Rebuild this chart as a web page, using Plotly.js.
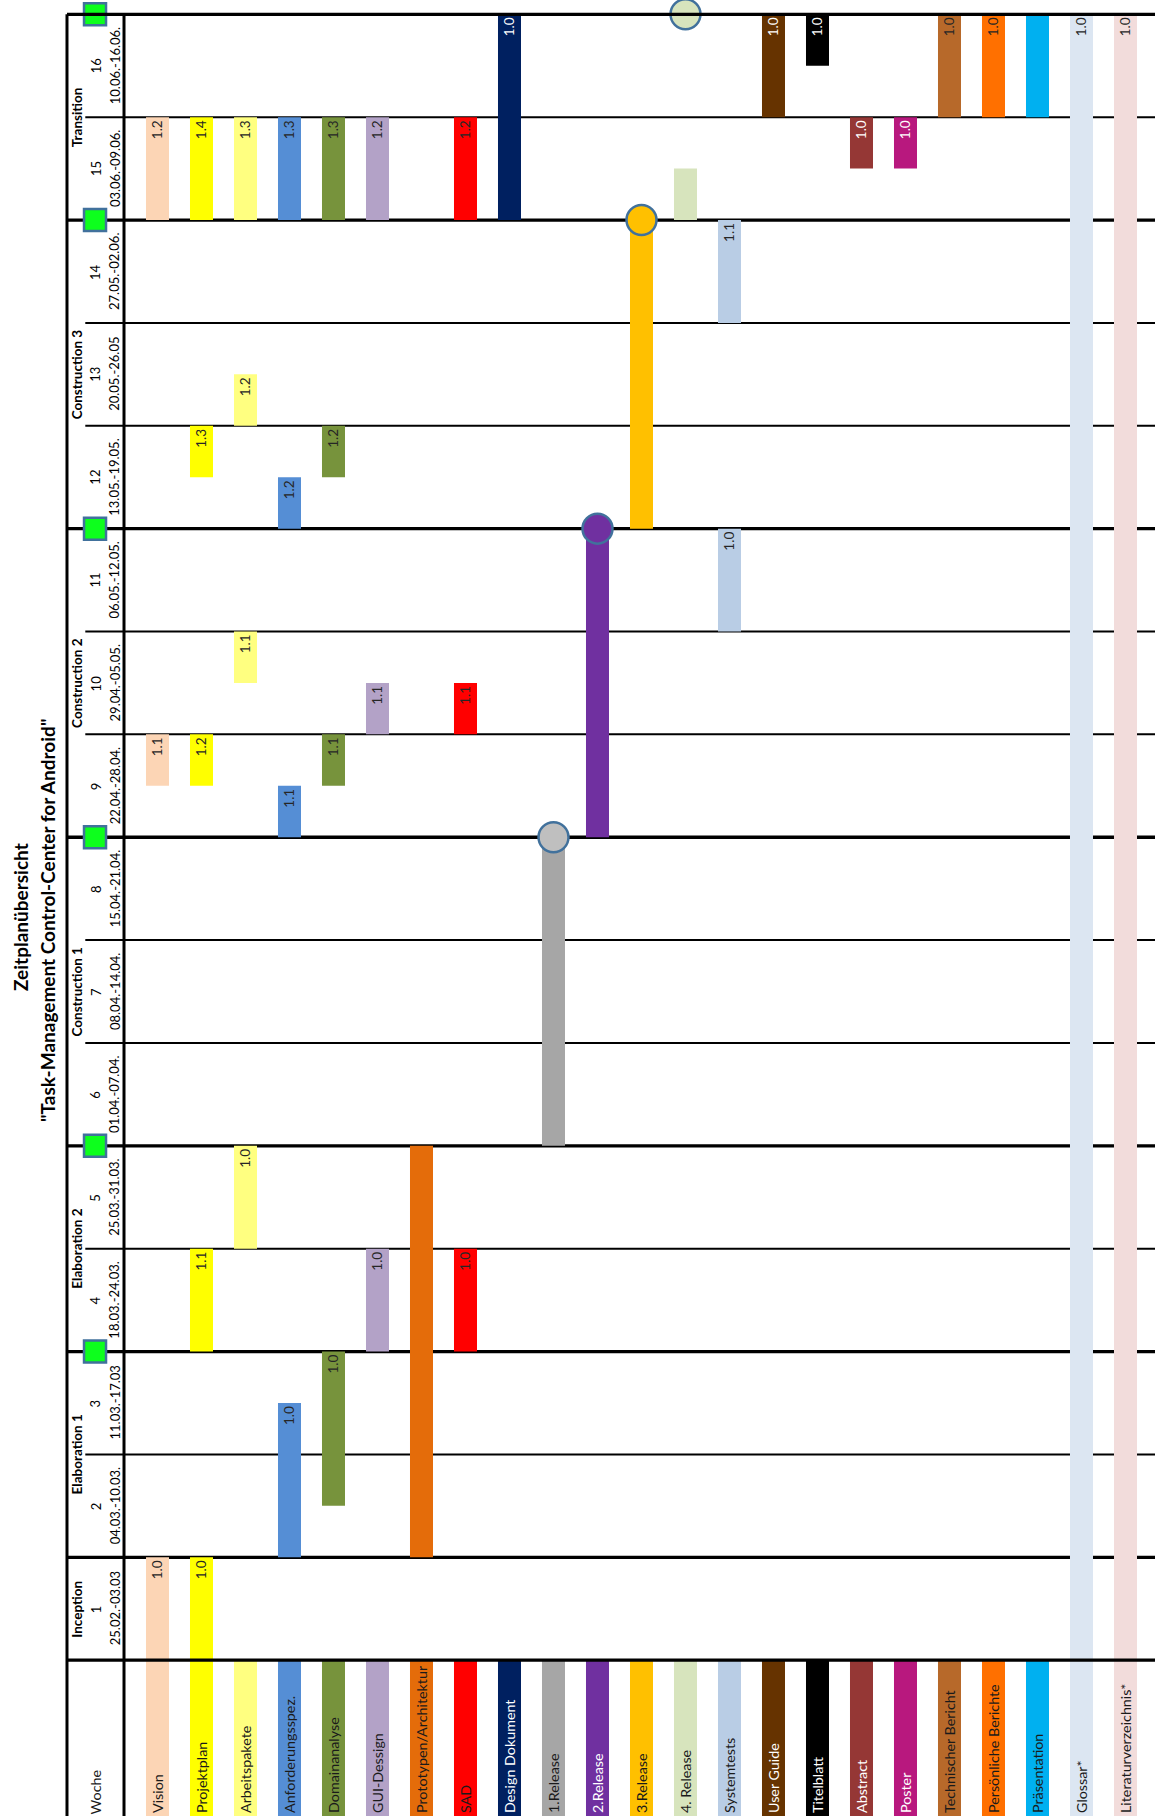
<!DOCTYPE html>
<html><head><meta charset="utf-8">
<script src="https://cdn.plot.ly/plotly-3.0.1.min.js"></script>
<style>html,body{margin:0;padding:0;background:#fff}#chart{width:1155px;height:1816px}</style>
</head><body><div id="chart"></div>
<script>
// ---------- data ----------
const items = ['Vision','Projektplan','Arbeitspakete','Anforderungsspez.','Domainanalyse','GUI-Dessign',
  'Prototypen/Architektur','SAD','Design Dokument','1.Release','2.Release','3.Release','4. Release',
  'Systemtests','User Guide','Titelblatt','Abstract','Poster','Technischer Bericht','Persönliche Berichte',
  'Präsentation','Glossar*','Literaturverzeichnis*'];
const itemColors = ['#FCD5B5','#FFFF00','#FFFF80','#558ED5','#77933C','#B3A2C7','#E46C0A','#FF0000','#002060',
  '#A6A6A6','#7030A0','#FFC000','#D7E4BD','#B9CDE5','#663300','#000000','#953735','#B8187E','#B7692A',
  '#FF7000','#00B0F0','#DCE6F2','#F2DCDB'];
const whiteTextItems = ['Design Dokument','2.Release','User Guide','Titelblatt','Abstract','Poster'];

// segments: deliverable, from week, to week (week k spans k-1..k), version label
const segItem = ['Vision','Vision','Vision',
  'Projektplan','Projektplan','Projektplan','Projektplan','Projektplan',
  'Arbeitspakete','Arbeitspakete','Arbeitspakete','Arbeitspakete',
  'Anforderungsspez.','Anforderungsspez.','Anforderungsspez.','Anforderungsspez.',
  'Domainanalyse','Domainanalyse','Domainanalyse','Domainanalyse',
  'GUI-Dessign','GUI-Dessign','GUI-Dessign',
  'Prototypen/Architektur',
  'SAD','SAD','SAD',
  'Design Dokument',
  '1.Release','2.Release','3.Release','4. Release',
  'Systemtests','Systemtests',
  'User Guide','Titelblatt','Abstract','Poster','Technischer Bericht','Persönliche Berichte','Präsentation',
  'Glossar*','Literaturverzeichnis*'];
const segFrom = [0,8.5,14, 0,3,8.5,11.5,14, 4,9.5,12,14, 1,8,11,14, 1.5,8.5,11.5,14, 3,9,14, 1, 3,9,14, 14,
  5,8,11,14, 10,13, 15,15.5,14.5,14.5,15,15,15, 0,0];
const segTo = [1,9,15, 1,4,9,12,15, 5,10,12.5,15, 2.5,8.5,11.5,15, 3,9,12,15, 4,9.5,15, 5, 4,9.5,15, 16,
  8,11,14,14.5, 11,14, 16,16,15,15,16,16,16, 16,16];
const segLabel = ['1.0','1.1','1.2', '1.0','1.1','1.2','1.3','1.4', '1.0','1.1','1.2','1.3', '1.0','1.1','1.2','1.3',
  '1.0','1.1','1.2','1.3', '1.0','1.1','1.2', '', '1.0','1.1','1.2', '1.0', '','','','', '1.0','1.1',
  '1.0','1.0','1.0','1.0','1.0','1.0','', '1.0','1.0'];

const weekNumbers = [1,2,3,4,5,6,7,8,9,10,11,12,13,14,15,16];
const weekDates = ['25.02.-03.03','04.03.-10.03.','11.03.-17.03','18.03.-24.03.','25.03.-31.03.','01.04.-07.04.',
  '08.04.-14.04.','15.04.-21.04.','22.04.-28.04.','29.04.-05.05.','06.05.-12.05.','13.05.-19.05.',
  '20.05.-26.05','27.05.-02.06.','03.06.-09.06.','10.06.-16.06.'];
const phaseNames = ['Inception','Elaboration 1','Elaboration 2','Construction 1','Construction 2','Construction 3','Transition'];
const phaseFirstWeek = [1,2,4,6,9,12,15];
const phaseLastWeek = [1,3,5,8,11,14,16];
const milestoneWeeks = [3,5,8,11,14,16];
const releaseItems = ['1.Release','2.Release','3.Release','4. Release'];
const releaseWeeks = [8,11,14,16];
const releaseColors = ['#BFBFBF','#7030A0','#FFC000','#D7E4BD'];
const titleLines = ['Zeitplanübersicht','"Task-Management Control-Center for Android"'];
const weekHeader = 'Woche';

// ---------- layout constants ----------
const FONT = 'Lato, "Open Sans", sans-serif';
const X_MIN = -3.5795, X_MAX = 22.6705;
const Y_MIN = -1.515, Y_MAX = 16.139;
const X_LEFT = -2.057, X_WEEKLINE = -0.761, X_THIN = -1.641;
const X_PHASE = -1.83, X_NUM = -1.41, X_DATE = -0.977, X_MS = -1.42;
const BAR_W = 0.523;
const DARK = '#262626';

const traces = [];
// header cells
traces.push({
  type:'bar', x: items.map((_,i)=>i), base: items.map(()=>Y_MIN), y: items.map(()=>-Y_MIN),
  width: BAR_W, marker:{color:itemColors, line:{width:0}},
  text: items, textposition:'inside', insidetextanchor:'start', textangle:-90, constraintext:'none',
  textfont:{family:FONT, size:14.3, color: items.map(n => whiteTextItems.includes(n) ? '#FFFFFF' : '#1A1A1A')},
  hoverinfo:'skip', cliponaxis:false
});
// deliverable bars
items.forEach((name, i) => {
  const idx = [];
  segItem.forEach((s,k) => { if (s === name) idx.push(k); });
  if (!idx.length) return;
  traces.push({
    type:'bar', x: idx.map(()=>i), base: idx.map(k=>segFrom[k]), y: idx.map(k=>segTo[k]-segFrom[k]),
    width: BAR_W, marker:{color:itemColors[i], line:{width:0}},
    text: idx.map(k=>segLabel[k]), textposition:'inside', insidetextanchor:'end', textangle:-90, constraintext:'none',
    textfont:{family:FONT, size:13.5, color: whiteTextItems.includes(name) ? '#FFFFFF' : DARK},
    hoverinfo:'skip', cliponaxis:false
  });
});
// release circles
traces.push({
  type:'scatter', mode:'markers', x: releaseItems.map(n=>items.indexOf(n)), y: releaseWeeks,
  marker:{size:30, color:releaseColors, line:{color:'#41719C', width:2.5}}, cliponaxis:false, hoverinfo:'skip'
});
// milestone squares
traces.push({
  type:'scatter', mode:'markers', x: milestoneWeeks.map(()=>X_MS), y: milestoneWeeks,
  marker:{symbol:'square', size:22, color:'#0DFF1D', line:{color:'#41719C', width:2.5}}, cliponaxis:false, hoverinfo:'skip'
});

// ---------- shapes ----------
const thickBounds = [0].concat(phaseLastWeek);
const shapes = [];
for (let b = 0; b <= 16; b++) {
  const thick = thickBounds.includes(b);
  shapes.push({type:'line', xref:'x', yref:'y', x0: thick ? X_LEFT : X_THIN, x1: X_MAX + 1, y0:b, y1:b,
    line:{color:'#000', width: thick ? 3.3 : 2}, layer: (b === 0 || b === 16) ? 'above' : 'below'});
}
[X_LEFT, X_WEEKLINE].forEach(xv => shapes.push({type:'line', xref:'x', yref:'y', x0:xv, x1:xv, y0:Y_MIN - 1, y1:16,
  line:{color:'#000', width:3}, layer:'above'}));

// ---------- annotations ----------
const ann = [];
weekNumbers.forEach((w, k) => {
  ann.push({x:X_NUM, y:w-0.5, text:String(w), textangle:-90, showarrow:false, xanchor:'center', yanchor:'middle',
    font:{family:FONT, size:13, color:'#000'}});
  ann.push({x:X_DATE, y:w-0.5, text:weekDates[k], textangle:-90, showarrow:false, xanchor:'center', yanchor:'middle',
    font:{family:FONT, size:13, color:'#000'}});
});
phaseNames.forEach((p, k) => {
  ann.push({x:X_PHASE, y:(phaseFirstWeek[k]-1 + phaseLastWeek[k]) / 2, text:'<b>'+p+'</b>', textangle:-90, showarrow:false,
    xanchor:'center', yanchor:'middle', font:{family:FONT, size:13.5, color:'#000'}});
});
ann.push({x:X_NUM, y:Y_MIN, text:weekHeader, textangle:-90, showarrow:false, xanchor:'center', yanchor:'bottom',
  font:{family:FONT, size:14.3, color:'#1A1A1A'}});
ann.push({xref:'paper', yref:'paper', x:20/1155, y:1-917/1816, text:'<b>'+titleLines[0]+'</b>', textangle:-90, showarrow:false,
  xanchor:'center', yanchor:'middle', font:{family:FONT, size:19, color:'#000'}});
ann.push({xref:'paper', yref:'paper', x:47/1155, y:1-921/1816, text:'<b>'+titleLines[1]+'</b>', textangle:-90, showarrow:false,
  xanchor:'center', yanchor:'middle', font:{family:FONT, size:19, color:'#000'}});

const layout = {
  width:1155, height:1816, margin:{l:0,r:0,t:0,b:0,pad:0},
  paper_bgcolor:'#fff', plot_bgcolor:'#fff', showlegend:false, barmode:'overlay', hovermode:false,
  xaxis:{range:[X_MIN, X_MAX], visible:false, fixedrange:true},
  yaxis:{range:[Y_MIN, Y_MAX], visible:false, fixedrange:true},
  shapes: shapes, annotations: ann
};
Plotly.newPlot('chart', traces, layout, {staticPlot:true, displayModeBar:false});
</script></body></html>
